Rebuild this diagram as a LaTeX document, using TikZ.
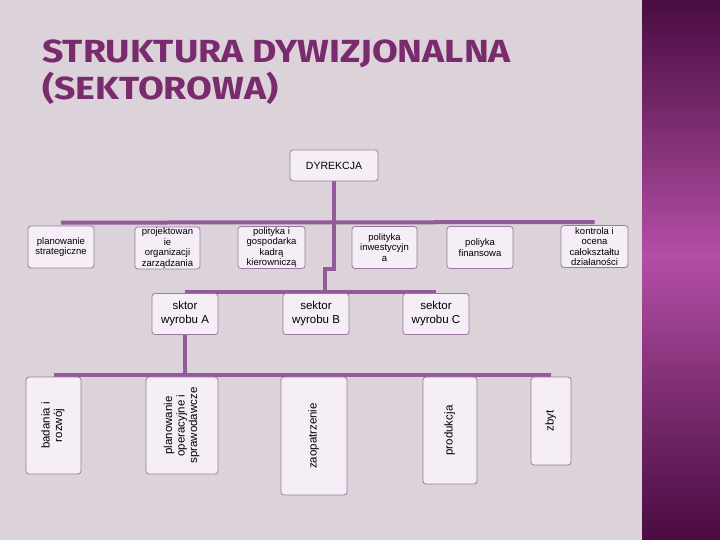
\documentclass[tikz,border=0pt]{standalone}
\usepackage{fontspec}
\setmainfont{Liberation Sans}
\newfontfamily\titlefont{Fira Sans}
\usepackage{tikz}
\usetikzlibrary{positioning,backgrounds}
\definecolor{SlideBg}{HTML}{DCD2DA}
\definecolor{SlideDark}{HTML}{4A0C42}
\definecolor{SlideMid}{HTML}{7C2D71}
\definecolor{SlideBright}{HTML}{B44EA6}
\definecolor{SlideTitle}{HTML}{7A2B6E}
\definecolor{OrgBar}{HTML}{935A99}
\definecolor{OrgEdge}{HTML}{9A78A0}
\definecolor{OrgFill}{HTML}{F5EEF6}
\tikzset{
  bar/.style={draw=OrgBar, line width=4pt},
  unit/.style={rounded corners=3pt, draw=OrgEdge, fill=OrgFill, line width=0.8pt,
               align=center, inner sep=0pt, font=\fontsize{9.5}{10.4}\selectfont},
  dyrbox/.style={unit, minimum width=88pt, minimum height=31pt, font=\fontsize{10.5}{12}\selectfont},
  deptbox/.style={unit, minimum width=66pt, minimum height=42pt},
  sectorbox/.style={unit, minimum width=66pt, minimum height=41pt, font=\fontsize{11.5}{14}\selectfont},
  cellbox/.style={unit, font=\fontsize{11.5}{12.5}\selectfont},
  titletext/.style={anchor=base west, text=SlideTitle, inner sep=0pt,
                    font=\titlefont\bfseries\fontsize{32}{32}\selectfont},
}
\newcommand{\vtext}[1]{\rotatebox{90}{\begin{tabular}{@{}c@{}}#1\end{tabular}}}
\newcommand{\wide}[1]{\scalebox{1.17}[1]{#1}}

\begin{document}
\begin{tikzpicture}[x=1pt,y=-1pt]
  \useasboundingbox (0,0) rectangle (720,540);
  % title
  \node[titletext] (title1) at (42,63) {\wide{STRUKTURA DYWIZJONALNA}};
  \node[titletext] (title2) at (42,100) {\wide{(SEKTOROWA)}};
  % top
  \node[dyrbox] (dyr) at (334,165.5) {DYREKCJA};
  % staff units
  \node[deptbox] (plan) at (61,247) {planowanie\\strategiczne};
  \node[deptbox, minimum width=65pt] (proj) at (167.5,248) {projektowan\\ie\\organizacji\\zarządzania};
  \node[deptbox, minimum width=67pt] (kadr) at (271.5,247.5) {polityka i\\gospodarka\\kadrą\\kierowniczą};
  \node[deptbox, minimum width=65pt] (inw) at (384.5,247.5) {polityka\\inwestycyjn\\a};
  \node[deptbox] (fin) at (480,247.5) {poliyka\\finansowa};
  \node[deptbox, minimum width=67pt] (kontr) at (594.5,246.5) {kontrola i\\ocena\\całokształtu\\działaności};
  % sectors
  \node[sectorbox] (secA) at (185,314) {sktor\\wyrobu A};
  \node[sectorbox] (secB) at (316,314) {sektor\\wyrobu B};
  \node[sectorbox] (secC) at (436,314) {sektor\\wyrobu C};
  % functions of sector A
  \node[cellbox, minimum width=55pt, minimum height=97pt] (rnd) at (53.5,425.5) {\vtext{badania i\\rozwój}};
  \node[cellbox, minimum width=72pt, minimum height=97pt] (oper) at (182,425.5) {\vtext{planowanie\\operacyjne i\\sprawodawcze}};
  \node[cellbox, minimum width=66pt, minimum height=118pt] (zaop) at (314,436) {\vtext{zaopatrzenie}};
  \node[cellbox, minimum width=54pt, minimum height=107pt] (prod) at (450,430.5) {\vtext{produkcja}};
  \node[cellbox, minimum width=40pt, minimum height=88pt] (zbyt) at (551,421) {\vtext{zbyt}};
  \coordinate (jog) at (325,269);

  \begin{scope}[on background layer]
    \fill[SlideBg] (0,0) rectangle (642,540);
    \shade[top color=SlideDark, bottom color=SlideBright, middle color=SlideMid] (642,0) rectangle (720,255);
    \shade[top color=SlideBright, bottom color=SlideDark, middle color=SlideMid] (642,255) rectangle (720,540);
    \draw[bar] ([yshift=3pt]plan.north) -- ([yshift=3pt]kontr.north);
    \draw[bar] (dyr.south) |- (jog) -- (jog |- secB.north);
    \draw[bar] ([yshift=1pt]secA.north) -- ([yshift=1pt]secC.north);
    \draw[bar] (secA.south) -- ([yshift=2pt]secA.south |- oper.north);
    \draw[bar] ([yshift=2pt]rnd.north) -- ([yshift=2pt]zbyt.north);
  \end{scope}
\end{tikzpicture}
\end{document}
